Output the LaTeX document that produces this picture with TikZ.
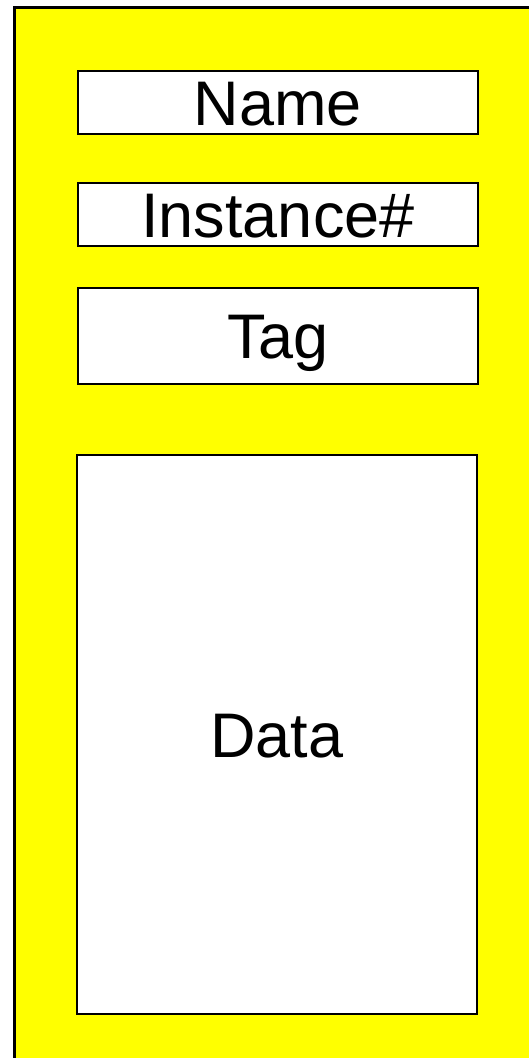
\documentclass[tikz,border=0pt]{standalone}
\usepackage{fontspec}
\setmainfont{Liberation Sans}
\usepackage{xcolor}
\usepackage{tikz}
\usetikzlibrary{positioning}
\definecolor{recyellow}{RGB}{255,255,0}

\begin{document}
\begin{tikzpicture}[x=1pt, y=-1pt,
    field/.style={draw, line width=2.2pt, fill=white, minimum width=400pt,
        inner sep=0pt, text height=45pt, text depth=0pt,
        font=\fontsize{63}{70}\selectfont}]
    % 1. Khung ngoài màu vàng (bị cắt ở mép phải và mép dưới)
    \useasboundingbox (0,0) rectangle (529,1058);
    \clip (0,0) rectangle (529,1058);
    \draw[line width=3pt, fill=recyellow] (14.5,7.5) rectangle (560,1090);

    % 2. Các ô trường dữ liệu
    \node[field, minimum height=63pt] (name) at (278,102.5) {Name};
    \node[field, minimum height=63pt] (inst) at (278,214.5) {Instance\#};
    \node[field, minimum height=96pt] (tag) at (278,336) {Tag};
    \node[field, minimum height=559pt] (data) at (277,734.5) {Data};
\end{tikzpicture}
\end{document}
